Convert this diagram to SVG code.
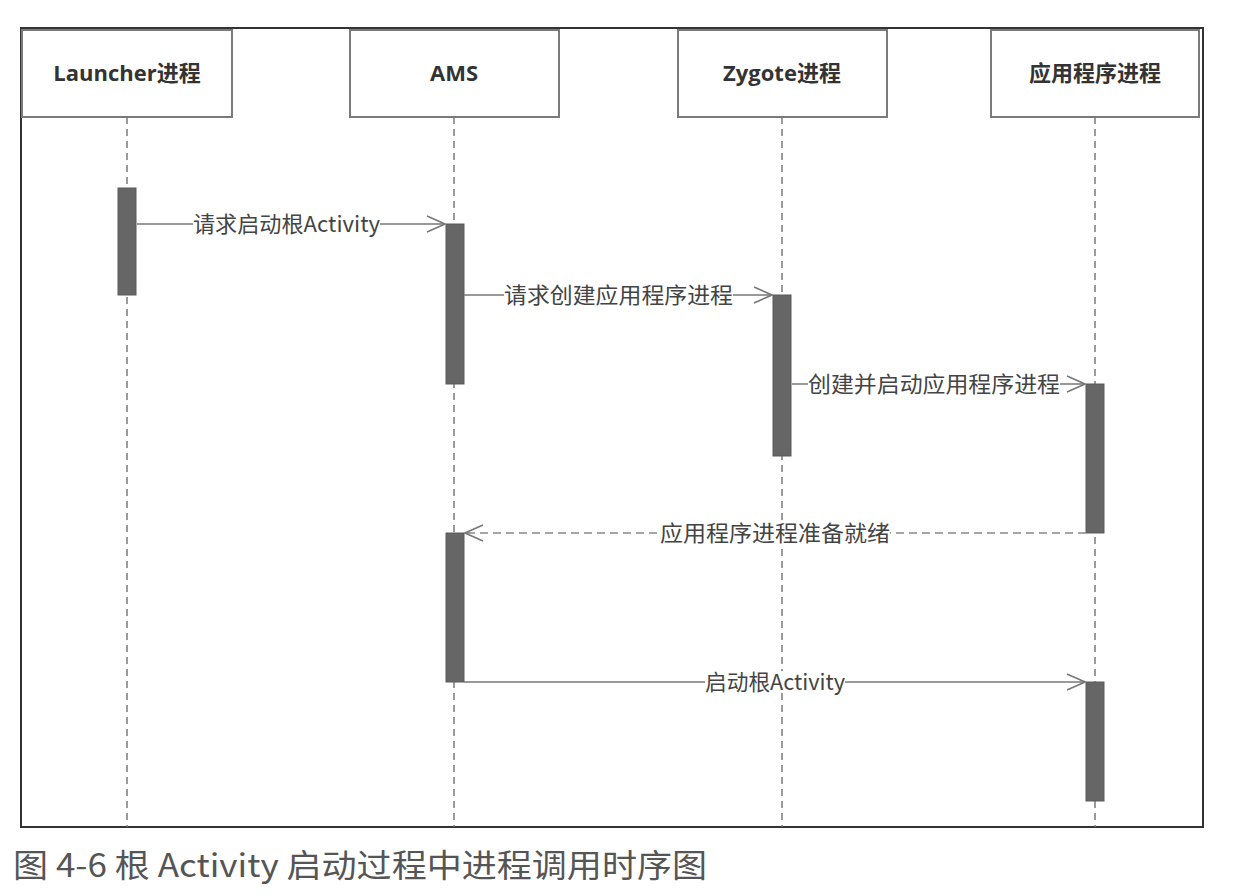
<svg xmlns="http://www.w3.org/2000/svg" width="1242" height="896" viewBox="0 0 1242 896">
<style>
.hdr{fill:#fff;stroke:#7a7a7a;stroke-width:2}
.ht{font-family:"Open Sans","Noto Sans CJK SC",sans-serif;font-weight:bold;font-size:22px;fill:#333;text-anchor:middle}
.life{stroke:#7a7a7a;stroke-width:1.5;stroke-dasharray:7 5;fill:none}
.bar{fill:#666;stroke:#5a5a5a;stroke-width:1}
.msg{stroke:#777;stroke-width:1.5;fill:none}
.dmsg{stroke:#888;stroke-width:1.5;fill:none;stroke-dasharray:8 5}
.lbl{font-family:"Noto Sans CJK SC",sans-serif;font-size:22px;fill:#444}
.lblbg{fill:#fff}
</style>
<defs>
<marker id="open" viewBox="0 0 20 20" refX="19" refY="10" markerWidth="20" markerHeight="20" markerUnits="userSpaceOnUse" orient="auto">
<path d="M1,2 L19,10 L1,18" fill="none" stroke="#777" stroke-width="1.5"/>
</marker>
</defs>
<rect x="0" y="0" width="1242" height="896" fill="#fff"/>
<rect x="21" y="28" width="1182" height="799" fill="none" stroke="#333" stroke-width="2"/>
<g id="lifelines">
<line class="life" x1="127" y1="117" x2="127" y2="827"/>
<line class="life" x1="454" y1="117" x2="454" y2="827"/>
<line class="life" x1="782" y1="117" x2="782" y2="827"/>
<line class="life" x1="1095" y1="117" x2="1095" y2="827"/>
</g>
<g id="launcher">
<rect class="hdr" x="22" y="30" width="210" height="87"/>
<text class="ht" x="127" y="81">Launcher进程</text>
<rect class="bar" x="118" y="188" width="18" height="107"/>
</g>
<g id="ams">
<rect class="hdr" x="350" y="30" width="209" height="87"/>
<text class="ht" x="454" y="81">AMS</text>
<rect class="bar" x="446" y="224" width="18" height="160"/>
<rect class="bar" x="446" y="533" width="18" height="149"/>
</g>
<g id="zygote">
<rect class="hdr" x="678" y="30" width="209" height="87"/>
<text class="ht" x="782" y="81">Zygote进程</text>
<rect class="bar" x="773" y="295" width="18" height="161"/>
</g>
<g id="app">
<rect class="hdr" x="991" y="30" width="208" height="87"/>
<text class="ht" x="1095" y="81">应用程序进程</text>
<rect class="bar" x="1086" y="384" width="18" height="149"/>
<rect class="bar" x="1086" y="682" width="18" height="119"/>
</g>
<g id="connectors">
<line class="msg" x1="137" y1="224" x2="445" y2="224" marker-end="url(#open)"/>
<rect class="lblbg" x="193" y="213" width="187" height="22"/>
<text class="lbl" x="193" y="232" textLength="187" lengthAdjust="spacingAndGlyphs">请求启动根Activity</text>
<line class="msg" x1="464" y1="295" x2="772" y2="295" marker-end="url(#open)"/>
<rect class="lblbg" x="504" y="284" width="229" height="22"/>
<text class="lbl" x="504" y="303" textLength="229" lengthAdjust="spacingAndGlyphs">请求创建应用程序进程</text>
<line class="msg" x1="792" y1="384" x2="1085" y2="384" marker-end="url(#open)"/>
<rect class="lblbg" x="808" y="373" width="252" height="22"/>
<text class="lbl" x="808" y="392" textLength="252" lengthAdjust="spacingAndGlyphs">创建并启动应用程序进程</text>
<line class="dmsg" x1="1086" y1="533" x2="465" y2="533" marker-end="url(#open)"/>
<rect class="lblbg" x="660" y="522" width="230" height="22"/>
<text class="lbl" x="660" y="541" textLength="230" lengthAdjust="spacingAndGlyphs">应用程序进程准备就绪</text>
<line class="msg" x1="464" y1="682" x2="1085" y2="682" marker-end="url(#open)"/>
<rect class="lblbg" x="705" y="671" width="140" height="22"/>
<text class="lbl" x="705" y="690" textLength="140" lengthAdjust="spacingAndGlyphs">启动根Activity</text>
</g>
<text x="13" y="877" font-family="'Noto Sans CJK SC',sans-serif" font-size="32" fill="#555" textLength="694" lengthAdjust="spacingAndGlyphs">图 4-6 根 Activity 启动过程中进程调用时序图</text>
</svg>
